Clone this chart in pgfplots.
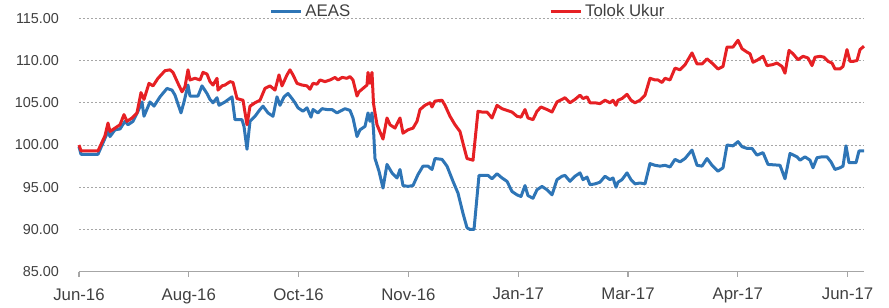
\documentclass[border=0pt]{standalone}
\usepackage{fontspec}
\setmainfont{Liberation Sans}
\usepackage{pgfplots}
\pgfplotsset{compat=1.18}
\definecolor{aeas}{RGB}{46,117,182}
\definecolor{tolok}{RGB}{230,32,36}
\definecolor{txt}{RGB}{64,64,64}
\begin{document}
\begin{tikzpicture}
\begin{axis}[
  name=ax,
  scale only axis,
  width=392.65bp, height=126.7bp,
  xmin=79, xmax=864.3, ymin=85, ymax=115,
  axis x line*=bottom, axis y line*=left,
  y axis line style={draw=none},
  x axis line style={draw=gray!70, line width=0.6bp},
  xtick={79,188.8,298.6,408.4,518.2,628,737.8,847.6},
  xticklabels={Jun-16,Aug-16,Oct-16,Nov-16,Jan-17,Mar-17,Apr-17,Jun-17},
  ytick={85,90,95,100,105,110,115},
  ytick style={draw=none},
  xtick style={draw=gray!70, line width=0.6bp},
  tick align=outside, major tick length=2.5bp,
  /pgf/number format/assume math mode=true,
  yticklabel={\pgfmathprintnumber[fixed,fixed zerofill,precision=2]{\tick}},
  yticklabel style={font=\fontsize{7.2bp}{9bp}\selectfont, text=txt, inner sep=0pt, anchor=east, xshift=-7.3bp},
  xticklabel style={font=\fontsize{8.4bp}{10bp}\selectfont, text=txt, inner sep=0pt, anchor=north, yshift=-5.6bp},
  ymajorgrids,
  grid style={gray!70, line width=0.5bp, dash pattern=on 1.2bp off 0.8bp},
  legend columns=2,
  legend style={at={(axis cs:269,115.75)}, anchor=west, draw=none, fill=none, inner sep=0pt,
    font=\fontsize{8.4bp}{10bp}\selectfont, text=txt,
    nodes={inner sep=1.5bp},
    /tikz/every even column/.append style={column sep=98bp}},
  legend image code/.code={\draw[#1] (0bp,0bp) -- (15bp,0bp);},
  every axis plot/.append style={line width=1.5bp, line join=round},
  clip=false,
]
\addplot[aeas] coordinates {
(79,99.8) (81,98.9) (98,98.9) (105,100.8) (108,101.6) (110,101.0) (115,101.8) (120,101.9) (125,102.8) (128,102.4) (133,102.8) (138,104.0) (142,105.1) (144,103.4) (150,105.1) (154,104.6) (160,105.7) (167,106.7) (172,106.5) (175,105.9) (181,103.8) (184,105.1) (188,107.1) (190,105.8) (198,105.8) (202,107.0) (207,106.1) (210,105.4) (213,105.0) (217,105.6) (219,104.7) (225,105.1) (232,105.7) (235,103.0) (242,103.0) (244,102.2) (247,99.5) (250,102.8) (255,103.4) (260,104.2) (263,104.6) (268,103.8) (273,103.4) (277,105.7) (280,104.7) (284,105.7) (288,106.1) (292,105.5) (295,105.0) (298,104.4) (303,104.0) (307,104.4) (311,103.3) (313,104.2) (318,103.8) (322,104.3) (327,104.2) (332,104.2) (337,103.8) (340,104.0) (345,104.3) (350,104.1) (353,103.2) (357,101.0) (360,101.8) (365,102.2) (368,103.8) (370,102.8) (372,103.8) (373.5,101.8) (375,98.4) (379,96.9) (383,94.9) (387,97.7) (392,96.7) (397,96.1) (400,97.1) (403,95.2) (408,95.1) (413,95.2) (418,96.5) (423,97.5) (428,97.5) (432,97.1) (435,98.4) (442,98.3) (447,97.5) (453,95.7) (458,94.3) (463,91.9) (467,90.2) (470,90.0) (474,90.0) (479,96.4) (483,96.4) (488,96.4) (492,96.0) (497,96.6) (502,96.1) (507,95.7) (512,94.5) (517,94.1) (521,93.9) (525,95.2) (528,94.0) (533,93.7) (537,94.7) (542,95.1) (547,94.7) (552,94.1) (557,95.9) (562,96.3) (565,96.4) (570,95.7) (575,96.3) (580,96.7) (583,95.9) (587,96.2) (590,95.3) (595,95.4) (600,95.6) (605,96.3) (610,95.9) (613,96.1) (616,95.0) (618,95.6) (622,95.9) (627,96.7) (631,95.9) (635,95.4) (640,95.5) (645,95.4) (650,97.8) (655,97.6) (660,97.5) (665,97.6) (670,97.4) (675,98.3) (680,98.0) (685,98.4) (692,99.4) (697,97.6) (702,97.5) (707,98.4) (712,97.6) (718,96.9) (723,97.3) (727,100.0) (733,99.9) (738,100.4) (742,99.8) (747,99.6) (752,99.6) (757,98.8) (763,99.1) (768,97.7) (780,97.6) (785,96.0) (790,99.0) (797,98.6) (800,98.2) (805,98.6) (810,98.2) (813,97.3) (817,98.5) (822,98.6) (827,98.6) (831,98.0) (835,97.1) (840,97.3) (843,97.5) (846,99.9) (849,97.9) (856,97.9) (859,99.3) (864,99.3)
};
\addlegendentry{AEAS}
\addplot[tolok] coordinates {
(79,100.0) (81,99.3) (98,99.3) (105,101.1) (108,102.6) (110,101.6) (115,102.0) (120,102.4) (124,103.6) (127,102.8) (132,103.2) (137,103.8) (141,106.2) (144,105.4) (149,107.3) (153,107.0) (158,107.9) (165,108.8) (170,108.9) (173,108.6) (178,107.3) (182,106.3) (185,106.9) (188,108.9) (190,107.7) (195,107.9) (200,107.7) (203,108.6) (207,108.4) (210,107.5) (213,107.1) (217,107.9) (218,106.5) (222,107.0) (225,107.1) (230,107.5) (233,107.4) (237,105.5) (243,105.3) (247,102.4) (250,104.6) (255,105.0) (260,105.3) (265,106.7) (270,107.0) (275,106.5) (279,108.3) (282,107.0) (287,108.3) (290,108.9) (293,108.3) (297,107.3) (302,107.1) (307,107.0) (310,106.6) (313,107.3) (317,107.2) (320,107.7) (325,107.5) (330,107.7) (335,108.0) (338,107.7) (342,108.0) (347,107.9) (350,108.1) (353,107.7) (357,105.8) (359,106.3) (363,106.7) (367,107.1) (368,108.6) (370,107.3) (372,108.6) (373.5,104.9) (377,102.4) (383,100.7) (387,103.2) (390,102.4) (395,102.0) (400,103.2) (403,101.4) (408,101.8) (413,102.0) (417,102.8) (420,104.2) (425,104.7) (430,105.0) (432,104.5) (435,105.2) (442,105.3) (445,104.7) (450,103.4) (455,102.4) (460,101.6) (463,100.2) (467,98.4) (473,98.2) (478,104.0) (482,103.9) (487,103.9) (492,103.2) (497,104.7) (502,104.3) (507,104.1) (512,103.9) (517,103.4) (521,103.3) (525,104.2) (528,103.2) (533,103.0) (537,104.0) (541,104.5) (547,104.2) (552,103.9) (557,105.1) (562,105.4) (565,105.6) (570,105.0) (575,105.4) (580,105.9) (583,105.5) (587,105.7) (590,105.0) (595,105.0) (600,104.9) (605,105.3) (610,105.0) (613,105.3) (616,104.7) (618,105.3) (622,105.5) (627,106.0) (631,105.3) (635,105.0) (640,105.3) (645,105.9) (650,107.9) (655,107.7) (658,107.7) (662,107.4) (665,107.9) (670,107.7) (675,109.1) (680,108.9) (685,109.5) (692,110.9) (697,109.6) (702,109.6) (707,110.2) (712,109.7) (718,109.0) (723,109.3) (727,111.6) (733,111.6) (738,112.4) (742,111.4) (747,111.0) (750,110.8) (753,109.8) (758,110.1) (763,110.5) (767,109.4) (772,109.5) (777,109.7) (782,109.3) (785,108.5) (789,111.2) (793,110.8) (798,110.1) (803,110.5) (808,110.3) (812,109.4) (815,110.4) (820,110.5) (824,110.4) (828,109.9) (832,109.7) (835,109.0) (840,109.0) (843,109.3) (847,111.3) (850,109.9) (853,109.9) (857,110.0) (860,111.3) (864,111.7)
};
\addlegendentry{Tolok Ukur}
\end{axis}
\path ([shift={(-39.5bp,-18.15bp)}]ax.south west) rectangle ([shift={(12.35bp,9.15bp)}]ax.north east);
\end{tikzpicture}
\end{document}
